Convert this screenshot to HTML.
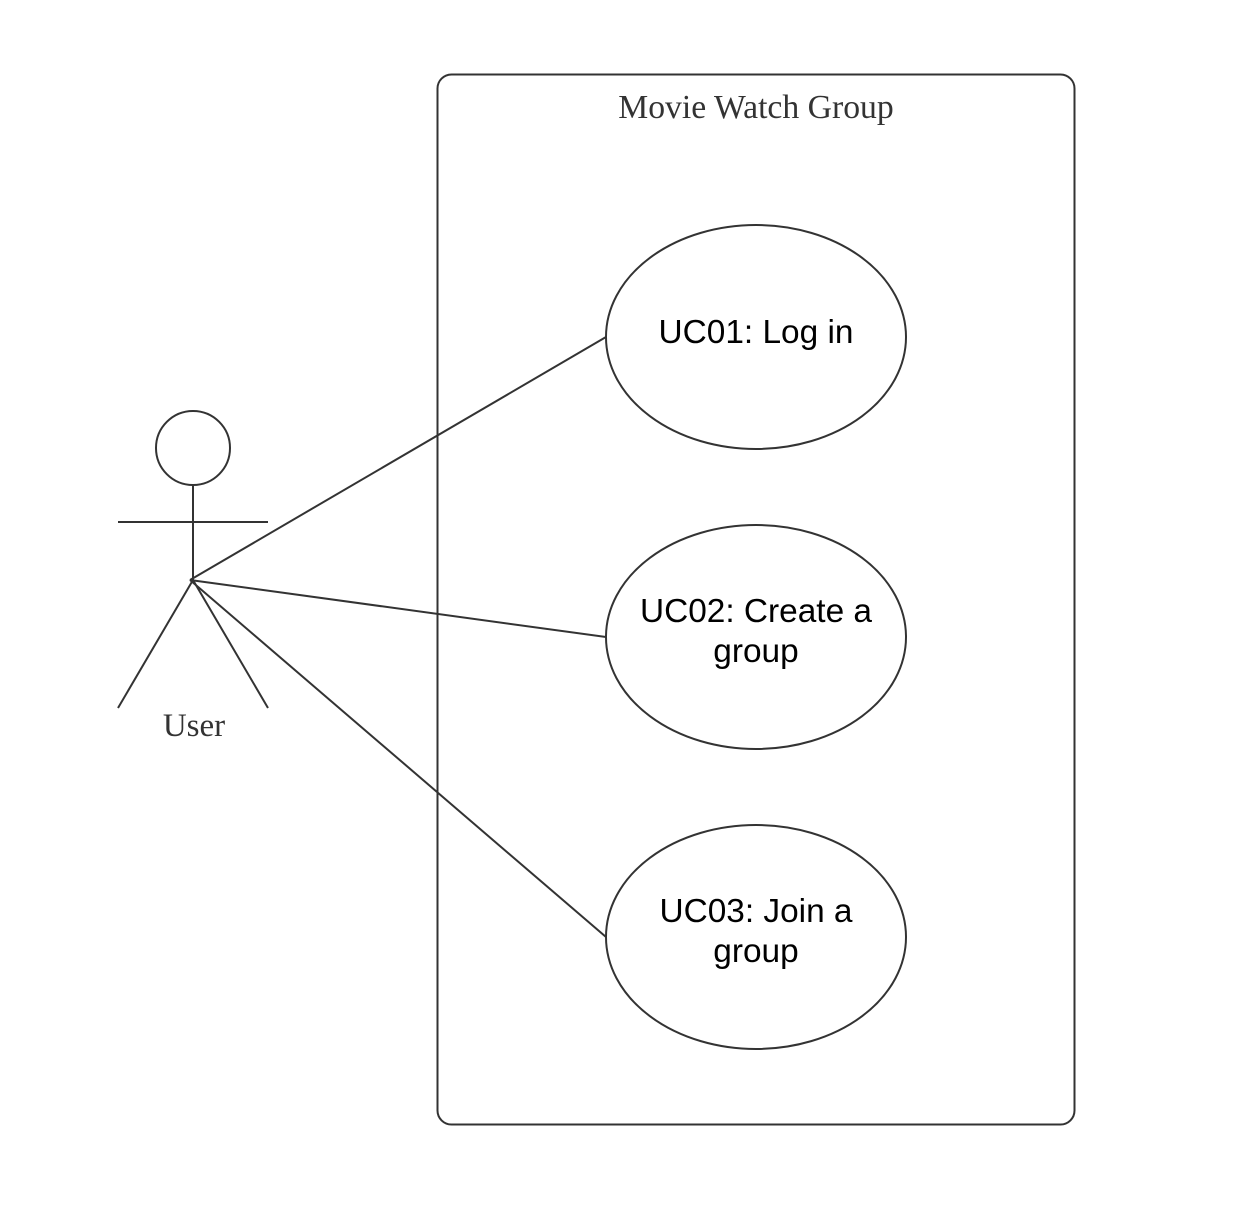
<!DOCTYPE html>
<html><head><style>body{margin:0;background:#fff}</style></head><body>
<svg width="1256" height="1200" xmlns="http://www.w3.org/2000/svg">
<rect width="1256" height="1200" fill="#fff"/>
<rect x="437.5" y="74.5" width="637" height="1050" rx="14" fill="none" stroke="#333" stroke-width="2"/>
<text x="756" y="118" text-anchor="middle" font-family="Liberation Serif, serif" font-size="33.7" fill="#333">Movie Watch Group</text>
<g fill="none" stroke="#333" stroke-width="2">
<ellipse cx="756" cy="337" rx="150" ry="112"/>
<ellipse cx="756" cy="637" rx="150" ry="112"/>
<ellipse cx="756" cy="937" rx="150" ry="112"/>
<circle cx="193" cy="448" r="37"/>
<line x1="193" y1="485" x2="193" y2="580"/>
<line x1="118" y1="522" x2="268" y2="522"/>
<line x1="193" y1="580" x2="118" y2="708"/>
<line x1="193" y1="580" x2="268" y2="708"/>
<line x1="190" y1="580" x2="606" y2="337"/>
<line x1="190" y1="580" x2="606" y2="637"/>
<line x1="190" y1="580" x2="606" y2="937"/>
</g>
<text x="194" y="736" text-anchor="middle" font-family="Liberation Serif, serif" font-size="33" fill="#333">User</text>
<g font-family="Liberation Sans, sans-serif" font-size="33.4" fill="#000" text-anchor="middle">
<text x="756" y="343">UC01: Log in</text>
<text x="756" y="622">UC02: Create a</text>
<text x="756" y="662">group</text>
<text x="756" y="922">UC03: Join a</text>
<text x="756" y="962">group</text>
</g>
</svg>
</body></html>
